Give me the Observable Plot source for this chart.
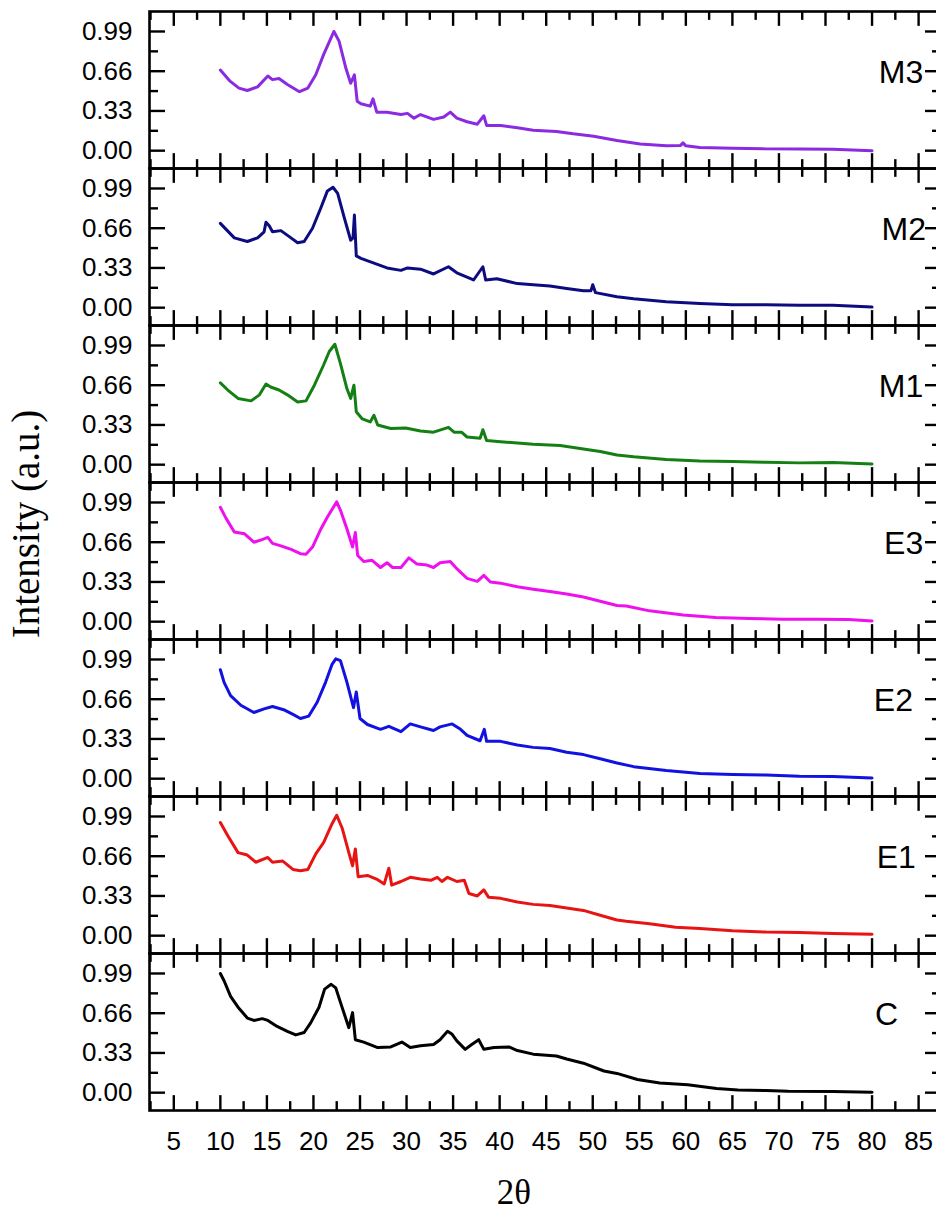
<!DOCTYPE html>
<html><head><meta charset="utf-8">
<script src="https://cdn.jsdelivr.net/npm/d3@7"></script>
<script src="https://cdn.jsdelivr.net/npm/@observablehq/plot@0.6"></script>
<style>
html,body{margin:0;padding:0;background:#fff;overflow:hidden;}
#wrap{position:relative;width:936px;height:1212px;overflow:hidden;}
#ytitle{position:absolute;left:25px;top:524px;transform:translate(-50%,-50%) rotate(-90deg);font-family:"Liberation Serif","Times New Roman",serif;font-size:39px;white-space:nowrap;line-height:1;color:#000;}
#xtitle{position:absolute;left:414px;width:200px;top:1178px;height:30px;text-align:center;font-family:"Liberation Serif","Times New Roman",serif;font-size:35px;line-height:30px;color:#000;}
</style></head>
<body><div id="wrap"><div id="chart"></div><div id="ytitle">Intensity (a.u.)</div><div id="xtitle">2θ</div></div>
<script>
// ---- data: [2θ, intensity] ----
const M3 = [[10,0.67],[11,0.58],[12,0.52],[12.9,0.50],[14,0.53],[15.1,0.62],[15.6,0.59],[16.3,0.60],[17.2,0.55],[18.5,0.49],[19.4,0.52],[20.25,0.63],[21.1,0.80],[22.2,0.99],[22.75,0.91],[23.5,0.68],[24,0.56],[24.4,0.63],[24.7,0.41],[25.1,0.39],[26.1,0.37],[26.4,0.43],[26.8,0.32],[27.9,0.32],[29.4,0.30],[30.1,0.31],[30.8,0.27],[31.5,0.30],[32.9,0.26],[34,0.28],[34.7,0.32],[35.4,0.27],[36.5,0.24],[37.6,0.22],[38.3,0.29],[38.6,0.21],[40.1,0.21],[41.9,0.19],[43.6,0.17],[46.1,0.16],[47.9,0.14],[50.1,0.12],[52.6,0.085],[55.1,0.056],[57.9,0.04],[59.4,0.042],[59.7,0.065],[60,0.04],[61.5,0.027],[65,0.02],[68.6,0.015],[72.2,0.015],[75.8,0.012],[80,0.0]];
const M2 = [[10,0.70],[11.5,0.58],[12.9,0.55],[14,0.58],[14.7,0.63],[14.9,0.71],[15.25,0.68],[15.6,0.63],[16.5,0.64],[17.4,0.59],[18.3,0.54],[19,0.55],[19.9,0.66],[20.8,0.83],[21.5,0.97],[22.1,1.0],[22.6,0.95],[23.3,0.75],[24,0.56],[24.25,0.58],[24.4,0.77],[24.6,0.43],[25.1,0.41],[26.5,0.37],[27.9,0.33],[29.4,0.31],[30.1,0.33],[31.5,0.32],[32.9,0.28],[34.5,0.34],[35.4,0.29],[37.2,0.23],[38.2,0.34],[38.5,0.23],[39.7,0.24],[41.9,0.20],[43.6,0.19],[45.4,0.18],[47.2,0.16],[49,0.14],[49.8,0.14],[50,0.19],[50.3,0.125],[52.6,0.09],[54.4,0.074],[57.9,0.05],[61.5,0.035],[65,0.024],[68.6,0.024],[72.2,0.02],[75.8,0.02],[80,0.005]];
const M1 = [[10,0.68],[10.8,0.62],[11.9,0.55],[13.3,0.53],[14.2,0.58],[14.9,0.67],[15.4,0.645],[16.3,0.62],[17.2,0.58],[18.3,0.52],[19.2,0.53],[20.1,0.66],[21.1,0.83],[21.7,0.94],[22.3,1.0],[22.9,0.84],[23.6,0.63],[24,0.55],[24.35,0.66],[24.6,0.44],[25.25,0.38],[26.1,0.355],[26.5,0.41],[26.9,0.33],[28.3,0.30],[29.9,0.305],[31.5,0.28],[32.9,0.27],[34.5,0.31],[35.1,0.27],[35.9,0.27],[36.5,0.23],[37.9,0.22],[38.2,0.29],[38.6,0.20],[40.1,0.19],[41.9,0.18],[43.6,0.17],[46.5,0.16],[49,0.13],[50.8,0.11],[52.6,0.08],[54.4,0.065],[57.9,0.044],[61.5,0.03],[65,0.027],[68.6,0.02],[72.2,0.015],[75.8,0.018],[80,0.006]];
const E3 = [[10,0.95],[10.6,0.86],[11.5,0.745],[12.6,0.73],[13.6,0.66],[14.4,0.68],[15.1,0.70],[15.6,0.65],[16.5,0.63],[17.6,0.60],[18.6,0.565],[19.2,0.56],[19.9,0.62],[20.8,0.77],[21.5,0.87],[22.5,0.995],[22.9,0.925],[23.6,0.77],[24.2,0.62],[24.5,0.74],[24.75,0.55],[25.4,0.50],[26.3,0.51],[27.2,0.45],[27.9,0.49],[28.5,0.45],[29.4,0.45],[30.25,0.53],[31.1,0.48],[32.2,0.47],[32.9,0.45],[33.6,0.49],[34.7,0.50],[35.4,0.44],[36.5,0.36],[37.6,0.335],[38.3,0.385],[39,0.33],[40.1,0.32],[41.9,0.29],[43.6,0.27],[45.4,0.25],[47.2,0.23],[49,0.205],[50.8,0.17],[52.6,0.135],[53.6,0.13],[56.1,0.09],[59.7,0.056],[63.2,0.035],[66.8,0.027],[70.4,0.02],[74,0.02],[77.5,0.018],[80,0.006]];
const E2 = [[10,0.905],[10.4,0.80],[11.1,0.69],[12.2,0.61],[13.6,0.55],[14.7,0.58],[15.6,0.60],[16.9,0.57],[17.9,0.53],[18.6,0.50],[19.5,0.52],[20.4,0.635],[21.3,0.80],[22,0.95],[22.4,0.995],[22.9,0.98],[23.6,0.80],[24.3,0.59],[24.6,0.72],[25,0.50],[25.8,0.45],[27.2,0.41],[28.1,0.435],[29.4,0.39],[30.4,0.455],[31.5,0.43],[32.9,0.40],[33.6,0.43],[34.9,0.455],[35.8,0.41],[36.5,0.36],[37.9,0.315],[38.35,0.41],[38.6,0.31],[40.1,0.31],[41.9,0.28],[43.6,0.26],[45.4,0.25],[47.2,0.22],[49,0.20],[50.8,0.165],[52.6,0.13],[54.4,0.10],[57.9,0.068],[61.5,0.044],[65,0.035],[68.6,0.03],[72.2,0.02],[75.8,0.018],[80,0.006]];
const E1 = [[10,0.94],[10.8,0.83],[11.9,0.69],[12.9,0.67],[13.8,0.61],[15.1,0.65],[15.6,0.61],[16.7,0.62],[17.8,0.55],[18.6,0.54],[19.4,0.55],[20.25,0.68],[21.1,0.775],[22,0.93],[22.5,1.0],[23.1,0.89],[23.8,0.69],[24.2,0.58],[24.5,0.72],[24.8,0.49],[25.8,0.50],[26.9,0.465],[27.6,0.43],[28.1,0.56],[28.4,0.42],[29.4,0.45],[30.4,0.485],[31.5,0.47],[32.6,0.46],[33.3,0.485],[33.8,0.45],[34.4,0.485],[35.4,0.45],[36.2,0.46],[36.7,0.35],[37.6,0.33],[38.3,0.38],[38.8,0.32],[40.1,0.31],[41.9,0.28],[43.6,0.26],[45.4,0.25],[47.2,0.23],[49,0.21],[50.8,0.17],[52.6,0.13],[53.6,0.12],[56.1,0.10],[58.9,0.07],[61.5,0.06],[65,0.04],[68.6,0.03],[72.2,0.027],[75.8,0.018],[80,0.012]];
const C  = [[10,0.99],[10.4,0.93],[11.1,0.80],[11.9,0.71],[12.9,0.62],[13.6,0.60],[14.5,0.615],[15.1,0.60],[16.1,0.55],[17.2,0.51],[18.1,0.48],[19,0.50],[19.7,0.58],[20.6,0.71],[21.2,0.86],[21.9,0.90],[22.4,0.87],[22.9,0.75],[23.8,0.54],[24.2,0.665],[24.5,0.44],[25.4,0.42],[26.9,0.375],[28.3,0.38],[29.5,0.42],[30.4,0.375],[31.5,0.39],[32.9,0.40],[33.6,0.44],[34.4,0.51],[34.9,0.485],[35.4,0.43],[36.3,0.36],[37,0.40],[37.75,0.44],[38.3,0.36],[39.4,0.375],[41,0.38],[41.9,0.35],[43.6,0.32],[46.1,0.305],[47.2,0.28],[49,0.245],[51.2,0.18],[52.6,0.16],[54.8,0.11],[57.2,0.08],[60.2,0.066],[63.3,0.035],[65.6,0.022],[68.6,0.018],[71,0.012],[75.8,0.01],[80,0.003]];

const samples = ["M3","M2","M1","E3","E2","E1","C"];
const colors  = ["#8a2be2","#0c0c80","#148014","#ee11ee","#1212e0","#e81414","#000000"];
const labelX  = [85.5, 85.8, 85.5, 85.5, 84.4, 84.7, 82.8];
const labelY  = 0.645;
const xMajor = [5,10,15,20,25,30,35,40,45,50,55,60,65,70,75,80,85];
const xMinor = [2.5,7.5,12.5,17.5,22.5,27.5,32.5,37.5,42.5,47.5,52.5,57.5,62.5,67.5,72.5,77.5,82.5,87.5];
const yMajor = [0,0.33,0.66,0.99];
const yMinor = [0.165,0.495,0.825];

const series = {M3, M2, M1, E3, E2, E1, C};
const rows = samples.flatMap(s => series[s].map(([x, y]) => ({sample: s, x, y})));
const labels = samples.map((s, i) => ({sample: s, x: labelX[i], y: labelY}));

const W = 936, H = 1160, mL = 149, mR = -5, mT = 10, mB = 50;
const facetH = (H - mT - mB) / samples.length;
const plotW = W - mR - mL;
const tk = {stroke: "black", strokeWidth: 2.4};

const chart = Plot.plot({
  width: W, height: H,
  marginLeft: mL, marginRight: mR, marginTop: mT, marginBottom: mB,
  style: {fontFamily: '"Liberation Sans", Arial, sans-serif', background: "white", color: "black", overflow: "visible"},
  x: {domain: [2.39, 87.46], label: null},
  y: {domain: [-0.148, 1.156], label: null},
  fy: {domain: samples, padding: 0, axis: null, label: null},
  color: {domain: samples, range: colors},
  marks: [
    Plot.tickX(xMajor, {x: d => d, insetTop: facetH - 15, ...tk}),
    Plot.tickX(xMajor, {x: d => d, insetBottom: facetH - 15, ...tk}),
    Plot.tickX(xMinor, {x: d => d, insetTop: facetH - 9, ...tk}),
    Plot.tickX(xMinor, {x: d => d, insetBottom: facetH - 9, ...tk}),
    Plot.tickY(yMajor, {y: d => d, insetRight: plotW - 16, ...tk}),
    Plot.tickY(yMinor, {y: d => d, insetRight: plotW - 9, ...tk}),
    Plot.tickY(yMajor, {y: d => d, insetLeft: plotW - 16, ...tk}),
    Plot.tickY(yMinor, {y: d => d, insetLeft: plotW - 9, ...tk}),
    Plot.line(rows, {x: "x", y: "y", fy: "sample", z: "sample", stroke: "sample", strokeWidth: 3, strokeLinejoin: "round"}),
    Plot.text(labels, {x: "x", y: "y", fy: "sample", text: "sample", textAnchor: "end", fontSize: 32, fill: "black"}),
    Plot.frame({stroke: "black", strokeWidth: 2.6}),
    Plot.axisY(yMajor, {tickSize: 0, tickPadding: 17, fontSize: 26, tickFormat: d3.format(".2f"), label: null}),
    Plot.axisX(xMajor, {anchor: "bottom", tickSize: 0, tickPadding: 21, fontSize: 26, label: null})
  ]
});
document.getElementById("chart").appendChild(chart);
</script>
</body></html>
